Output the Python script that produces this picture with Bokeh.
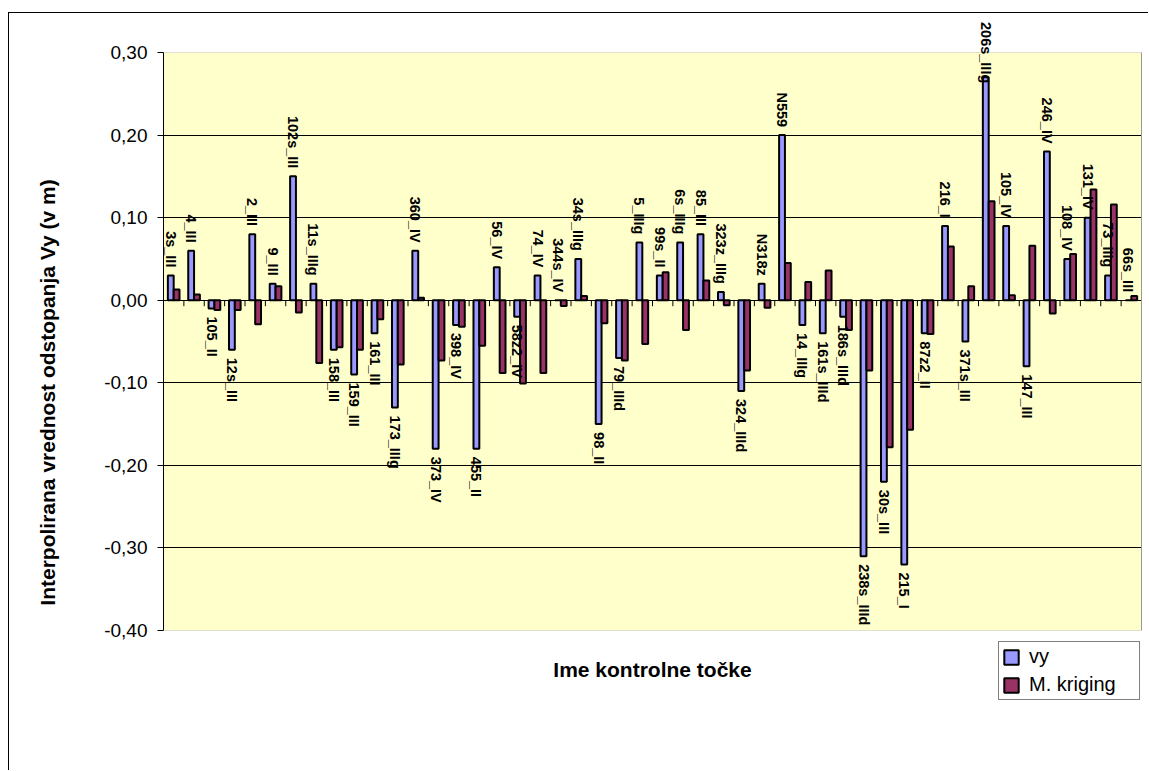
import numpy as np
from bokeh.plotting import figure
from bokeh.models import (ColumnDataSource, FactorRange, Range1d, FixedTicker, LinearAxis,
                          CustomJSTickFormatter, LabelSet, Label, Legend, LegendItem,
                          BoxAnnotation)
from bokeh.transform import dodge
from bokeh.core.properties import value
from bokeh.embed import file_html
from bokeh.resources import INLINE

categories = ["3s_III", "4_III", "105_II", "12s_III", "2_III", "9_III", "102s_III", "11s_IIIg",
              "158_III", "159_III", "161_III", "173_IIIg", "360_IV", "373_IV", "398_IV", "455_II",
              "56_IV", "58z2_IV", "74_IV", "344s_IV", "34s_IIIg", "98_II", "79_IIId", "5_IIIg",
              "99s_II", "6s_IIIg", "85_III", "323z_IIIg", "324_IIId", "N318z", "N559", "14_IIIg",
              "161s_IIId", "186s_IIId", "238s_IIId", "30s_III", "215_I", "87z2_II", "216_I",
              "371s_III", "206s_IIIg", "105_IV", "147_III", "246_IV", "108_IV", "131_IV",
              "73_IIIg", "66s_III"]

vy = [0.03, 0.06, -0.01, -0.06, 0.08, 0.02, 0.15, 0.02, -0.06, -0.09,
      -0.04, -0.13, 0.06, -0.18, -0.03, -0.18, 0.04, -0.02, 0.03, 0.00,
      0.05, -0.15, -0.07, 0.07, 0.03, 0.07, 0.08, 0.01, -0.11, 0.02,
      0.20, -0.03, -0.04, -0.02, -0.31, -0.22, -0.32, -0.04, 0.09, -0.05,
      0.27, 0.09, -0.08, 0.18, 0.05, 0.10, 0.03, 0.00]

kriging = [0.013, 0.007, -0.012, -0.012, -0.029, 0.017, -0.015, -0.076, -0.057, -0.060,
           -0.023, -0.078, 0.003, -0.073, -0.032, -0.055, -0.088, -0.101, -0.088, -0.007,
           0.005, -0.028, -0.073, -0.053, 0.034, -0.036, 0.024, -0.006, -0.085, -0.009,
           0.045, 0.022, 0.036, -0.036, -0.085, -0.178, -0.157, -0.041, 0.065, 0.017,
           0.120, 0.006, 0.066, -0.016, 0.056, 0.134, 0.116, 0.005]

y_ticks = [-0.4, -0.3, -0.2, -0.1, 0.0, 0.1, 0.2, 0.3]
grid_ticks = [-0.3, -0.2, -0.1, 0.0, 0.1, 0.2]

series_names = ["vy", "M. kriging"]
x_title = "Ime kontrolne točke"
y_title = "Interpolirana vrednost odstopanja Vy (v m)"

# ---- layout / style -------------------------------------------------------
FONT = "Liberation Sans"
BAR_W = 0.286
BLUE = "#9999FF"
MAROON = "#993366"
PLOT_BG = "#FFFFCC"
Y_MIN, Y_MAX = y_ticks[0], y_ticks[-1]

W, H = 1140, 758                 # canvas, placed at page (9, 13)
PLOT_TOP_PX, PLOT_BOTTOM_PX = 39, 617   # plot area inside canvas
px_per_unit = (PLOT_BOTTOM_PX - PLOT_TOP_PX) / (Y_MAX - Y_MIN)
y_start = Y_MIN - (H - PLOT_BOTTOM_PX) / px_per_unit
y_end = Y_MAX + PLOT_TOP_PX / px_per_unit

# labels that Excel pushed down to stay inside the chart area
label_shift = {"206s_IIIg": -6}

src = ColumnDataSource(dict(cat=categories, vy=vy, kr=kriging))

p = figure(x_range=FactorRange(*categories), y_range=Range1d(y_start, y_end),
           width=W, height=H, output_backend="svg", toolbar_location=None,
           min_border_left=154, min_border_right=8, min_border_top=0, min_border_bottom=0,
           background_fill_color="white", border_fill_color="white",
           outline_line_color=None, margin=(13, 0, 0, 9))
p.title.visible = False
p.styles = {"box-shadow": "-1px -1px 0 0 black"}

# plot area (yellow) drawn beneath the grid lines
plot_area = BoxAnnotation(top=Y_MAX, bottom=Y_MIN, fill_color=PLOT_BG, fill_alpha=1,
                          line_color="#999999", line_width=1, level="underlay")
p.center.insert(0, plot_area)

r1 = p.vbar(x=dodge("cat", -BAR_W / 2, range=p.x_range), top="vy", width=BAR_W, source=src,
            fill_color=BLUE, line_color="black", line_width=2)
r2 = p.vbar(x=dodge("cat", BAR_W / 2, range=p.x_range), top="kr", width=BAR_W, source=src,
            fill_color=MAROON, line_color="black", line_width=2)

# category-axis tick marks at boundaries between categories
bounds = np.arange(1, len(categories))
tick_len = 6 / px_per_unit
p.segment(x0=bounds, y0=0, x1=bounds, y1=-tick_len, line_color="black", line_width=1)

# grid
p.xgrid.visible = False
p.ygrid.ticker = FixedTicker(ticks=grid_ticks)
p.ygrid.grid_line_color = "black"
p.ygrid.grid_line_width = 1

# axes
p.xaxis.visible = False
ya = p.yaxis[0]
ya.bounds = (Y_MIN, Y_MAX)
ya.ticker = FixedTicker(ticks=y_ticks)
ya.formatter = CustomJSTickFormatter(code="return tick.toFixed(2).replace('.', ',');")
ya.major_tick_out = 6
ya.major_tick_in = 0
ya.minor_tick_line_color = None
ya.axis_line_color = "black"
ya.major_tick_line_color = "black"
ya.major_label_standoff = 10
ya.major_label_text_font = FONT
ya.major_label_text_font_size = "19px"
ya.major_label_text_color = "black"
ya.axis_label = y_title
ya.axis_label_text_font = FONT
ya.axis_label_text_font_size = "21px"
ya.axis_label_text_font_style = "bold"
ya.axis_label_text_color = "black"
ya.axis_label_standoff = 42

ra = LinearAxis(bounds=(Y_MIN, Y_MAX), ticker=FixedTicker(ticks=[]), axis_line_color="#999999",
                major_tick_in=0, major_tick_out=0, minor_tick_in=0, minor_tick_out=0,
                major_label_standoff=0, major_label_text_font_size="0px")
p.add_layout(ra, "right")

# data labels on vy bars
pos_c = [c for c, v in zip(categories, vy) if v >= 0]
neg_c = [c for c, v in zip(categories, vy) if v < 0]
pos = dict(cat=pos_c, v=[v for v in vy if v >= 0],
           off=[label_shift.get(c, 8) for c in pos_c])
neg = dict(cat=neg_c, v=[v for v in vy if v < 0], off=[-8 for c in neg_c])
common = dict(angle=-np.pi / 2, text_baseline="middle", text_font=value(FONT),
              text_font_size="14.5px", text_font_style="bold", text_color="black")
p.add_layout(LabelSet(x=dodge("cat", -BAR_W / 2, range=p.x_range), y="v", text="cat",
                      source=ColumnDataSource(pos), text_align="right", y_offset="off", **common))
p.add_layout(LabelSet(x=dodge("cat", -BAR_W / 2, range=p.x_range), y="v", text="cat",
                      source=ColumnDataSource(neg), text_align="left", y_offset="off", **common))

# x-axis title (below the plot area)
p.add_layout(Label(x=len(categories) / 2, y=Y_MIN - (656 - PLOT_BOTTOM_PX) / px_per_unit,
                   text=x_title, text_align="center", text_baseline="alphabetic",
                   text_font=FONT, text_font_size="21px", text_font_style="bold",
                   text_color="black"))

legend = Legend(items=[LegendItem(label=series_names[0], renderers=[r1]),
                       LegendItem(label=series_names[1], renderers=[r2])],
                location=(835, 71), padding=3, spacing=5, margin=0,
                label_height=18, glyph_height=18, glyph_width=18, label_standoff=9,
                label_width=107, label_text_font=FONT, label_text_font_size="20px",
                label_text_color="black", border_line_color="black", border_line_width=1,
                background_fill_color="white", background_fill_alpha=1)
p.add_layout(legend)

open("out.html", "w").write(file_html(p, INLINE))
